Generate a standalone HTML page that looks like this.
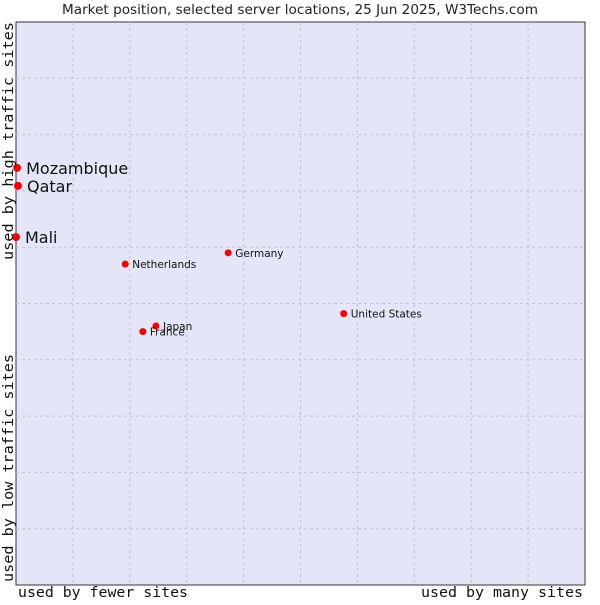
<!DOCTYPE html>
<html><head><meta charset="utf-8"><style>
body{margin:0;background:#fff}
svg text{font-family:"DejaVu Sans","Liberation Sans",sans-serif}
.mono{font-family:"DejaVu Sans Mono","Liberation Mono",monospace}
</style></head><body>
<svg id="chart" width="600" height="600" xmlns="http://www.w3.org/2000/svg">
<text x="62" y="14" textLength="476" lengthAdjust="spacingAndGlyphs" font-size="13" fill="#222">Market position, selected server locations, 25 Jun 2025, W3Techs.com</text>
<rect x="16" y="22" width="569" height="563" fill="#e4e6f8" stroke="#333" stroke-width="1"/>
<g id="grid"></g>
<g id="points"></g>
<text class="mono" x="18" y="597" font-size="14" textLength="170" lengthAdjust="spacingAndGlyphs" fill="#111">used by fewer sites</text>
<text class="mono" x="421" y="597" font-size="14" textLength="162" lengthAdjust="spacingAndGlyphs" fill="#111">used by many sites</text>
<text class="mono" transform="translate(13,260) rotate(-90)" font-size="14" textLength="238" lengthAdjust="spacingAndGlyphs" fill="#111">used by high traffic sites</text>
<text class="mono" transform="translate(13,582) rotate(-90)" font-size="14" textLength="228" lengthAdjust="spacingAndGlyphs" fill="#111">used by low traffic sites</text>
</svg>
<script>
const names=["Mozambique","Qatar","Mali","Netherlands","Germany","United States","Japan","France"];
const xVals=[0.2,0.35,0,19.2,37.3,57.6,24.6,22.3];
const yVals=[74.1,70.9,61.8,57.0,59.0,48.2,46.0,45.0];
const big=[true,true,true,false,false,false,false,false];
const X0=16,X1=585,Y0=585,Y1=22;
const sx=v=>X0+v/100*(X1-X0), sy=v=>Y0-v/100*(Y0-Y1);
const NS="http://www.w3.org/2000/svg";
const g=document.getElementById('grid');
for(let i=1;i<10;i++){
 const l=document.createElementNS(NS,'line');
 
 
 l.setAttribute('x1',sx(i*10));l.setAttribute('x2',sx(i*10));l.setAttribute('y1',Y1);l.setAttribute('y2',Y0);
 l.setAttribute('stroke','#c4c4c8');l.setAttribute('stroke-dasharray','3,3');g.appendChild(l);
 const h=document.createElementNS(NS,'line');
 
 
 h.setAttribute('y1',sy(i*10));h.setAttribute('y2',sy(i*10));h.setAttribute('x1',X0);h.setAttribute('x2',X1);
 h.setAttribute('stroke','#c4c4c8');h.setAttribute('stroke-dasharray','3,3');g.appendChild(h);
}
const p=document.getElementById('points');
names.forEach((n,i)=>{
 const x=sx(xVals[i]),y=sy(yVals[i]);
 const c=document.createElementNS(NS,'circle');
 
 
 c.setAttribute('cx',x);c.setAttribute('cy',y);c.setAttribute('r',big[i]?4:3.5);c.setAttribute('fill','#f00');p.appendChild(c);
 const t=document.createElementNS(NS,'text');
 
 
 t.setAttribute('x',x+(big[i]?9:7));t.setAttribute('y',y+(big[i]?6:4));
 t.setAttribute('font-size',big[i]?16:10.5);t.setAttribute('fill','#111');t.textContent=n;p.appendChild(t);
});
</script>
</body></html>
